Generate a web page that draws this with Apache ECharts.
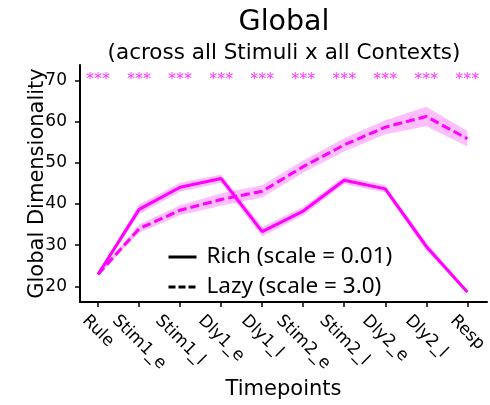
<!DOCTYPE html>
<html>
<head>
<meta charset="utf-8">
<script src="https://cdn.jsdelivr.net/npm/echarts@6/dist/echarts.min.js"></script>
<style>html,body{margin:0;padding:0;background:#fff}#c{width:490px;height:405px}</style>
</head>
<body>
<div id="c"></div>
<script>
const timepoints = ['Rule', 'Stim1_e', 'Stim1_l', 'Dly1_e', 'Dly1_l', 'Stim2_e', 'Stim2_l', 'Dly2_e', 'Dly2_l', 'Resp'];
const richMean = [22.9, 38.7, 44.1, 46.2, 33.3, 38.3, 45.8, 43.7, 29.7, 18.6];
const richSem  = [0.3, 1.2, 1.1, 1.0, 1.2, 1.0, 0.9, 0.9, 1.0, 0.4];
const lazyMean = [22.9, 34.0, 38.5, 41.1, 43.1, 49.1, 54.4, 58.7, 61.3, 55.9];
const lazySem  = [0.3, 1.0, 1.2, 1.5, 1.5, 1.5, 1.6, 1.7, 2.4, 1.9];
const sigLabels = ['***', '***', '***', '***', '***', '***', '***', '***', '***', '***'];
const sigLevel = 70.1;
const yTicks = [20, 30, 40, 50, 60, 70];
const richName = 'Rich (scale = 0.01)';
const lazyName = 'Lazy (scale = 3.0)';
const titleText = 'Global';
const subtitleText = '(across all Stimuli x all Contexts)';

const MAG = '#ff00ff';
const BAND = 'rgba(255,0,255,0.25)';
const FONT = 'DejaVu Sans';
const xIdx = timepoints.map((_, i) => i);
const PLOT_CX = 284;

const cv = document.createElement('canvas').getContext('2d');
function textW(t, size) { cv.font = size + 'px "DejaVu Sans"'; return cv.measureText(t).width; }

// per-label offset so rotated labels are centred under ticks like matplotlib
const rich = {};
timepoints.forEach((t, i) => {
  const L = textW(t, 17);
  const a = 0.25 * (17 + L);
  rich['r' + i] = {fontSize: 17, fontFamily: FONT, color: '#000', padding: [2 * a, 0, 0, 2 * a]};
});

function bandSeries(mean, sem, z) {
  return {
    type: 'custom',
    z: z,
    silent: true,
    data: xIdx.map(i => [i, mean[i] - sem[i], mean[i] + sem[i]]),
    encode: {x: 0, y: [1, 2]},
    renderItem: function (params, api) {
      if (params.dataIndex !== 0) return;
      const pts = [];
      for (let i = 0; i < xIdx.length; i++) pts.push(api.coord([xIdx[i], mean[i] + sem[i]]));
      for (let i = xIdx.length - 1; i >= 0; i--) pts.push(api.coord([xIdx[i], mean[i] - sem[i]]));
      return {type: 'polygon', shape: {points: pts}, style: {fill: BAND, stroke: null}};
    }
  };
}

const chart = echarts.init(document.getElementById('c'), null, {renderer: 'canvas'});
chart.setOption({
  animation: false,
  backgroundColor: '#fff',
  title: [
    {text: titleText, left: PLOT_CX - textW(titleText, 28.5) / 2, top: 8, padding: 0,
     textStyle: {fontFamily: FONT, fontSize: 28.5, fontWeight: 'normal', color: '#000'}},
    {text: subtitleText, left: PLOT_CX - textW(subtitleText, 21.5) / 2, top: 42, padding: 0,
     textStyle: {fontFamily: FONT, fontSize: 21.5, fontWeight: 'normal', color: '#000'}}
  ],
  grid: {left: 80, right: 0, top: 65, bottom: 99, containLabel: false},
  legend: {
    orient: 'vertical', left: 167, top: 245, padding: 0, itemWidth: 28, itemHeight: 14, itemGap: 6,
    textStyle: {fontFamily: 'Noto Sans', fontSize: 22.5, lineHeight: 24, color: '#000', padding: [0, 0, 0, 5]},
    data: [
      {name: richName, lineStyle: {color: '#000', width: 3, type: 'solid'}, itemStyle: {color: '#000', opacity: 0}},
      {name: lazyName, lineStyle: {color: '#000', width: 3, type: [7, 3]}, itemStyle: {color: '#000', opacity: 0}}
    ]
  },
  xAxis: {
    type: 'value', min: -0.44, max: 9.48,
    name: 'Timepoints', nameLocation: 'middle', nameGap: 77, nameMoveOverlap: false,
    nameTextStyle: {fontFamily: FONT, fontSize: 21, color: '#000'},
    axisLine: {show: true, onZero: false, lineStyle: {color: '#000', width: 2}},
    axisTick: {show: true, inside: false, length: 5, customValues: xIdx, lineStyle: {color: '#000', width: 1.5}},
    axisLabel: {
      customValues: xIdx, rotate: -45, margin: 10, align: 'center', verticalAlign: 'middle',
      formatter: v => '{r' + v + '|' + timepoints[v] + '}', rich: rich
    },
    splitLine: {show: false}
  },
  yAxis: {
    type: 'value', min: 16.17, max: 73.83,
    name: 'Global Dimensionality', nameLocation: 'middle', nameGap: 32, nameMoveOverlap: false,
    nameTextStyle: {fontFamily: FONT, fontSize: 21, color: '#000'},
    axisLine: {show: true, onZero: false, lineStyle: {color: '#000', width: 2}},
    axisTick: {show: true, inside: false, length: 5, customValues: yTicks, lineStyle: {color: '#000', width: 1.5}},
    axisLabel: {customValues: yTicks, margin: 13, fontFamily: FONT, fontSize: 17, color: '#000'},
    splitLine: {show: false}
  },
  series: [
    bandSeries(lazyMean, lazySem, 1),
    bandSeries(richMean, richSem, 1),
    {name: lazyName, type: 'line', z: 3, symbol: 'none', data: xIdx.map(i => [i, lazyMean[i]]),
     lineStyle: {color: MAG, width: 3, type: [9, 4]}, itemStyle: {color: MAG}},
    {name: richName, type: 'line', z: 4, symbol: 'none', data: xIdx.map(i => [i, richMean[i]]),
     lineStyle: {color: MAG, width: 3}, itemStyle: {color: MAG}},
    {name: 'sig', type: 'scatter', z: 5, symbolSize: 0, silent: true,
     data: xIdx.map(i => [i, sigLevel]),
     label: {show: true, position: 'inside', formatter: p => sigLabels[p.dataIndex],
             fontFamily: FONT, fontSize: 16, color: MAG}}
  ]
});
</script>
</body>
</html>
